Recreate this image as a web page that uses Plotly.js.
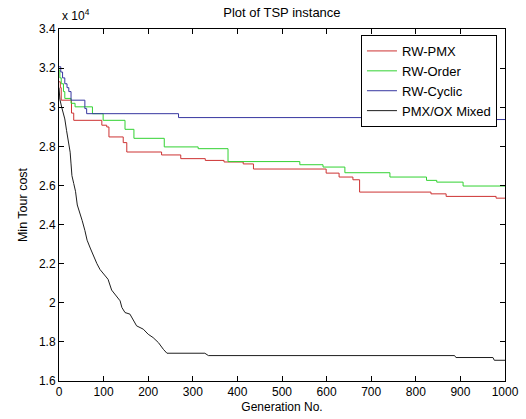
<!DOCTYPE html>
<html>
<head>
<meta charset="utf-8">
<script src="https://cdn.plot.ly/plotly-3.0.1.min.js"></script>
<style>html,body{margin:0;padding:0;background:#fff;}#chart{width:526px;height:419px;}</style>
</head>
<body>
<div id="chart"></div>
<script>
// RW-PMX (step changes)
var pmxGen  = [0, 3, 5, 28, 33, 96, 107, 112, 144, 152, 230, 273, 328, 370, 413, 436, 599, 628, 659, 674, 834, 868, 980, 1000];
var pmxCost = [31300, 31000, 30360, 29700, 29330, 29080, 28990, 28480, 28190, 27710, 27560, 27370, 27280, 27200, 27100, 26840, 26630, 26430, 26290, 25660, 25570, 25440, 25350, 25350];
// RW-Order
var orderGen  = [0, 2, 5, 10, 13, 27, 36, 75, 99, 148, 168, 236, 312, 379, 540, 592, 641, 742, 824, 847, 906, 1000];
var orderCost = [31900, 31500, 31200, 30800, 30450, 30200, 30020, 29670, 29330, 28870, 28410, 27970, 27880, 27220, 27060, 26940, 26650, 26430, 26260, 26170, 25970, 25970];
// RW-Cyclic
var cyclicGen  = [0, 4, 8, 13, 18, 22, 27, 58, 62, 268, 805, 886, 1000];
var cyclicCost = [32070, 31800, 31500, 31200, 31000, 30800, 30360, 29930, 29670, 29470, 29420, 29370, 29370];
// PMX/OX Mixed
var mixedGen  = [0, 2, 6, 13, 17, 21, 25, 27, 29, 33, 37, 41, 47, 52, 58, 63, 70, 77, 85, 92, 100, 110, 118, 129, 137, 141, 148, 159, 167, 174, 189, 200, 211, 223, 234, 242, 327, 335, 887, 890, 973, 976, 1000];
var mixedCost = [31000, 30400, 30000, 29400, 28800, 28200, 27700, 27100, 26500, 26100, 25700, 25000, 24600, 24200, 23700, 23200, 22800, 22400, 22000, 21700, 21500, 21200, 20650, 20350, 20100, 19760, 19500, 19420, 19080, 18820, 18650, 18390, 18220, 17960, 17620, 17420, 17420, 17300, 17300, 17200, 17200, 17060, 17060];

var seriesNames = ["RW-PMX", "RW-Order", "RW-Cyclic", "PMX/OX Mixed"];
var yTickVals = [16000, 18000, 20000, 22000, 24000, 26000, 28000, 30000, 32000, 34000];
var yTickText = ["1.6", "1.8", "2", "2.2", "2.4", "2.6", "2.8", "3", "3.2", "3.4"];

var FONT = "Liberation Sans, Arial, sans-serif";
var traces = [
  {x: pmxGen, y: pmxCost, name: seriesNames[0], mode: "lines", line: {color: "rgb(205,50,50)", width: 1, shape: "hv"}},
  {x: orderGen, y: orderCost, name: seriesNames[1], mode: "lines", line: {color: "rgb(50,210,50)", width: 1, shape: "hv"}},
  {x: cyclicGen, y: cyclicCost, name: seriesNames[2], mode: "lines", line: {color: "rgb(55,55,160)", width: 1, shape: "hv"}},
  {x: mixedGen, y: mixedCost, name: seriesNames[3], mode: "lines", line: {color: "rgb(30,30,30)", width: 1, shape: "linear"}}
];

var layout = {
  width: 526, height: 419,
  margin: {l: 59, r: 21, t: 29, b: 38, pad: 0},
  paper_bgcolor: "#fff", plot_bgcolor: "#fff",
  font: {family: FONT, size: 12, color: "#000"},
  title: {text: "Plot of TSP instance", font: {family: FONT, size: 13, color: "#000"}, x: 0.536, xanchor: "center", y: 0.971, yanchor: "middle"},
  showlegend: true,
  legend: {x: 0.982, xanchor: "right", y: 0.983, yanchor: "top", bgcolor: "#fff", bordercolor: "#000", borderwidth: 1, font: {family: FONT, size: 13, color: "#000"}},
  xaxis: {
    range: [0, 1000], tickmode: "linear", tick0: 0, dtick: 100,
    ticks: "inside", ticklen: 5, tickcolor: "#000", showline: true, linecolor: "#000", linewidth: 1, mirror: "ticks",
    showgrid: false, zeroline: false, tickfont: {family: FONT, size: 12},
    title: {text: "Generation No.", font: {family: FONT, size: 12}, standoff: 4}
  },
  yaxis: {
    range: [16000, 34000], tickmode: "array", tickvals: yTickVals, ticktext: yTickText,
    ticks: "inside", ticklen: 5, tickcolor: "#000", showline: true, linecolor: "#000", linewidth: 1, mirror: "ticks",
    showgrid: false, zeroline: false, tickfont: {family: FONT, size: 12},
    title: {text: "Min Tour cost", font: {family: FONT, size: 12.5}, standoff: 8}
  },
  annotations: [{
    text: "x 10<sup>4</sup>", xref: "paper", yref: "paper", x: 0, y: 1, xanchor: "left", yanchor: "bottom",
    xshift: 1, yshift: 4, showarrow: false, font: {family: FONT, size: 12}
  }]
};

Plotly.newPlot("chart", traces, layout, {displayModeBar: false, staticPlot: true});
</script>
</body>
</html>
